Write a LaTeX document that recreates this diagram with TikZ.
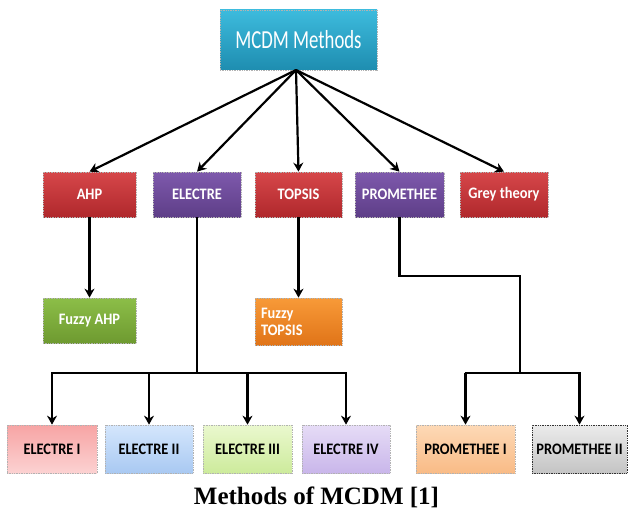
\documentclass[tikz,border=0pt]{standalone}
\usepackage{fontspec}
\setmainfont{Liberation Serif}
\newfontfamily\boxfont[FakeStretch=0.9]{Carlito}
\newfontfamily\titlefont[FakeStretch=0.72]{Carlito}
\usetikzlibrary{arrows.meta,shadows}
\definecolor{cyanT}{HTML}{3DBBDD}
\definecolor{cyanB}{HTML}{1E8DB0}
\definecolor{redT}{HTML}{D6474A}
\definecolor{redB}{HTML}{B0282C}
\definecolor{purT}{HTML}{7E59AC}
\definecolor{purB}{HTML}{5E3E88}
\definecolor{grnT}{HTML}{8CBE48}
\definecolor{grnB}{HTML}{6E9A30}
\definecolor{orgT}{HTML}{F89A38}
\definecolor{orgB}{HTML}{E07418}
\definecolor{pinkT}{HTML}{F7A4A4}
\definecolor{pinkB}{HTML}{FCD2D2}
\definecolor{bluT}{HTML}{D4E6FC}
\definecolor{bluB}{HTML}{A9C9F2}
\definecolor{lgrT}{HTML}{EAF8CE}
\definecolor{lgrB}{HTML}{CDEB9C}
\definecolor{lpuT}{HTML}{E6DCF6}
\definecolor{lpuB}{HTML}{C9B6EA}
\definecolor{lorT}{HTML}{FDD9B6}
\definecolor{lorB}{HTML}{F9BB86}
\definecolor{lgyT}{HTML}{EBEBEB}
\definecolor{lgyB}{HTML}{C4C4C4}
\tikzset{
  box/.style={rectangle, draw=gray!60, densely dotted, line width=0.7pt,
    inner sep=2pt, align=center, font=\boxfont\bfseries\fontsize{16}{17}\selectfont,
    text=white, minimum height=45pt},
  grad/.style 2 args={top color=#1, bottom color=#2},
  lbox/.style={box, text=black, minimum height=48pt},
  conn/.style={line width=2.2pt, black},
  arr/.style={conn, -{Stealth[length=9pt,width=10pt]}},
}
\begin{document}
\begin{tikzpicture}[x=1pt,y=-1pt]
\useasboundingbox (0,0) rectangle (628,513);
\node[box, grad={cyanT}{cyanB}, minimum width=157pt, minimum height=60pt,
  font=\titlefont\fontsize{26}{28}\selectfont] (mcdm) at (298.5,40) {MCDM Methods};
\node[box, grad={redT}{redB}, minimum width=93pt] (ahp) at (89.5,194.5) {AHP};
\node[box, grad={purT}{purB}, minimum width=88pt] (electre) at (197,194.5) {ELECTRE};
\node[box, grad={redT}{redB}, minimum width=87pt] (topsis) at (298.5,194.5) {TOPSIS};
\node[box, grad={purT}{purB}, minimum width=89pt] (prom) at (399.5,194.5) {PROMETHEE};
\node[box, grad={redT}{redB}, minimum width=88pt] (grey) at (504,194.5) {Grey theory};
\node[box, grad={grnT}{grnB}, minimum width=93pt] (fahp) at (89.5,320.5) {Fuzzy AHP};
\node[box, grad={orgT}{orgB}, minimum width=87pt, minimum height=47pt, align=left,
  text width=75pt, font=\boxfont\bfseries\fontsize{16}{17}\selectfont] (ftop) at (298.5,321.5) {Fuzzy\\TOPSIS};
\node[lbox, grad={pinkT}{pinkB}, minimum width=90pt] (e1) at (52,449) {ELECTRE I};
\node[lbox, grad={bluT}{bluB}, minimum width=88pt] (e2) at (149,449) {ELECTRE II};
\node[lbox, grad={lgrT}{lgrB}, minimum width=89pt] (e3) at (247.5,449) {ELECTRE III};
\node[lbox, grad={lpuT}{lpuB}, minimum width=88pt] (e4) at (346,449) {ELECTRE IV};
\node[lbox, grad={lorT}{lorB}, minimum width=99pt] (p1) at (465.5,449) {PROMETHEE I};
\node[lbox, grad={lgyT}{lgyB}, draw=black!80, minimum width=95pt] (p2) at (579.5,449) {PROMETHEE II};
\node[font=\bfseries\fontsize{25}{27}\selectfont, inner sep=0pt] (cap) at (316.5,497) {Methods of MCDM [1]};
% fan arrows
\coordinate (src) at (296,70);
\foreach \t in {ahp,electre,topsis,prom,grey}
  \draw[arr] (src) -- (\t.north);
\draw[arr] (ahp) -- (fahp);
\draw[arr] (topsis) -- (ftop);
% ELECTRE family
\coordinate (ej) at (197,373);
\draw[conn] (electre) -- (ej);
\draw[conn] ([xshift=-1pt]e1.north |- ej) -- ([xshift=1pt]e4.north |- ej);
\foreach \t in {e1,e2,e3,e4}
  \draw[arr] (\t.north |- ej) -- (\t.north);
% PROMETHEE family
\coordinate (pa) at (399.5,276);
\coordinate (pb) at (520,276);
\coordinate (pj) at (520,373);
\draw[conn] (prom) -- (pa) -- (pb) -- (pj);
\draw[conn] ([xshift=-1pt]p1.north |- pj) -- ([xshift=1pt]p2.north |- pj);
\foreach \t in {p1,p2}
  \draw[arr] (\t.north |- pj) -- (\t.north);
\end{tikzpicture}
\end{document}
